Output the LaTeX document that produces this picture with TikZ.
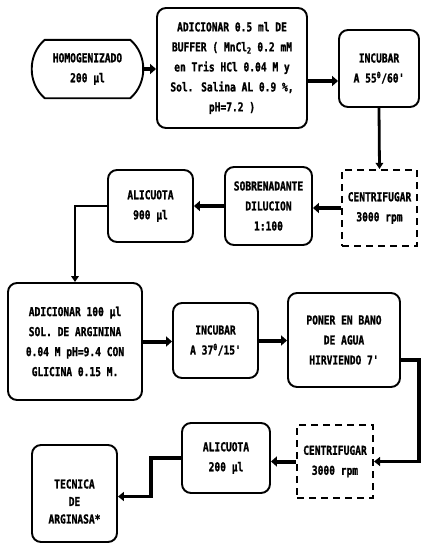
\documentclass[tikz,border=0pt]{standalone}
\usepackage{fontspec}
\newfontfamily\boxfont{DejaVu Sans Mono}[FakeStretch=0.78, BoldFeatures={FakeBold=1.2}]
\usetikzlibrary{arrows.meta}
\tikzset{
  lbl/.style={align=center, font=\boxfont\bfseries\fontsize{12.3}{20}\selectfont, inner sep=0pt},
  stepbox/.style={lbl, draw, line width=1.9pt, rounded corners=9pt},
  spinbox/.style={lbl, draw, line width=2.1pt, dash pattern=on 7pt off 5pt},
  heavy/.style={line width=4pt, -{Triangle[length=6pt,width=10pt]}},
  thin/.style={line width=2.8pt, -{Triangle[length=6pt,width=7.5pt]}},
  link/.style={line width=3.4pt, -{Triangle[length=6pt,width=9pt]}},
}
\begin{document}
\begin{tikzpicture}[x=1pt,y=-1pt]
\useasboundingbox (0,0) rectangle (421,544);
\fill[white] (0,0) rectangle (421,544);

% first row
\node[lbl, minimum width=109pt, minimum height=58pt] (h) at (87.5,69) {HOMOGENIZADO\\200 µl};
\draw[line width=1.9pt] ([xshift=12pt]h.north west) -- ([xshift=-12pt]h.north east)
  to[bend left=50] ([xshift=-12pt]h.south east) -- ([xshift=12pt]h.south west)
  to[bend left=50] cycle;
\node[stepbox, minimum width=150pt, minimum height=120pt] (b2) at (232,68)
  {ADICIONAR 0.5 ml DE\\BUFFER ( MnCl\textsubscript{2} 0.2 mM\\en Tris HCl 0.04 M y\\Sol. Salina AL 0.9 \%,\\pH=7.2 )};
\node[stepbox, minimum width=80pt, minimum height=77pt] (b3) at (379,68.5) {INCUBAR\\A 55\textsuperscript{0}/60'};

% second row
\node[spinbox, minimum width=75pt, minimum height=76pt] (c1) at (379.5,208) {CENTRIFUGAR\\3000 rpm};
\node[stepbox, minimum width=87pt, minimum height=78pt] (s) at (268.5,206) {SOBRENADANTE\\DILUCION\\1:100};
\node[stepbox, minimum width=85pt, minimum height=72pt] (a1) at (150.5,206) {ALICUOTA\\900 µl};

% third row
\node[stepbox, minimum width=134pt, minimum height=117pt] (big) at (75,341.5)
  {ADICIONAR 100 µl\\SOL. DE ARGININA\\0.04 M pH=9.4 CON\\GLICINA 0.15 M.};
\node[stepbox, minimum width=85pt, minimum height=75pt] (i2) at (215.5,340.5) {INCUBAR\\A 37\textsuperscript{0}/15'};
\node[stepbox, minimum width=112pt, minimum height=94pt] (p) at (344,340) {PONER EN BANO\\DE AGUA\\HIRVIENDO 7'};

% fourth row
\node[spinbox, minimum width=76pt, minimum height=73pt] (c2) at (335,461.5) {CENTRIFUGAR\\3000 rpm};
\node[stepbox, minimum width=88pt, minimum height=70pt] (a2) at (226,458) {ALICUOTA\\200 µl};
\node[stepbox, minimum width=85pt, minimum height=97pt] (t) at (74.5,493.5) {};
\node[lbl, font=\boxfont\bfseries\fontsize{12.3}{17.5}\selectfont] (tt) at ([yshift=-8pt]t.center) {TECNICA\\DE\\ARGINASA*};

% connector end points away from the box centres
\coordinate (b2out) at ([yshift=-13pt]b2.east);
\coordinate (pout) at ([yshift=-20pt]p.east);
\coordinate (tin) at ([yshift=-3pt]t.east);

% connectors
\draw[heavy] (h.east) -- (b2.west |- h.east);
\draw[heavy] (b2out) -- (b3.west |- b2out);
\draw[thin] (b3.south) -- (c1.north);
\draw[heavy] (c1.west) -- (s.east |- c1.west);
\draw[heavy] (s.west) -- (a1.east);
\draw[thin] (a1.west) -| (big.north);
\draw[heavy] (big.east) -- (i2.west |- big.east);
\draw[heavy] (i2.east) -- (p.west |- i2.east);
\draw[link] (pout) -- ++(18,0) |- (c2.east);
\draw[heavy] (c2.west) -- (a2.east |- c2.west);
\draw[link] (a2.west) -- ++(-30,0) |- (tin);
\end{tikzpicture}
\end{document}
